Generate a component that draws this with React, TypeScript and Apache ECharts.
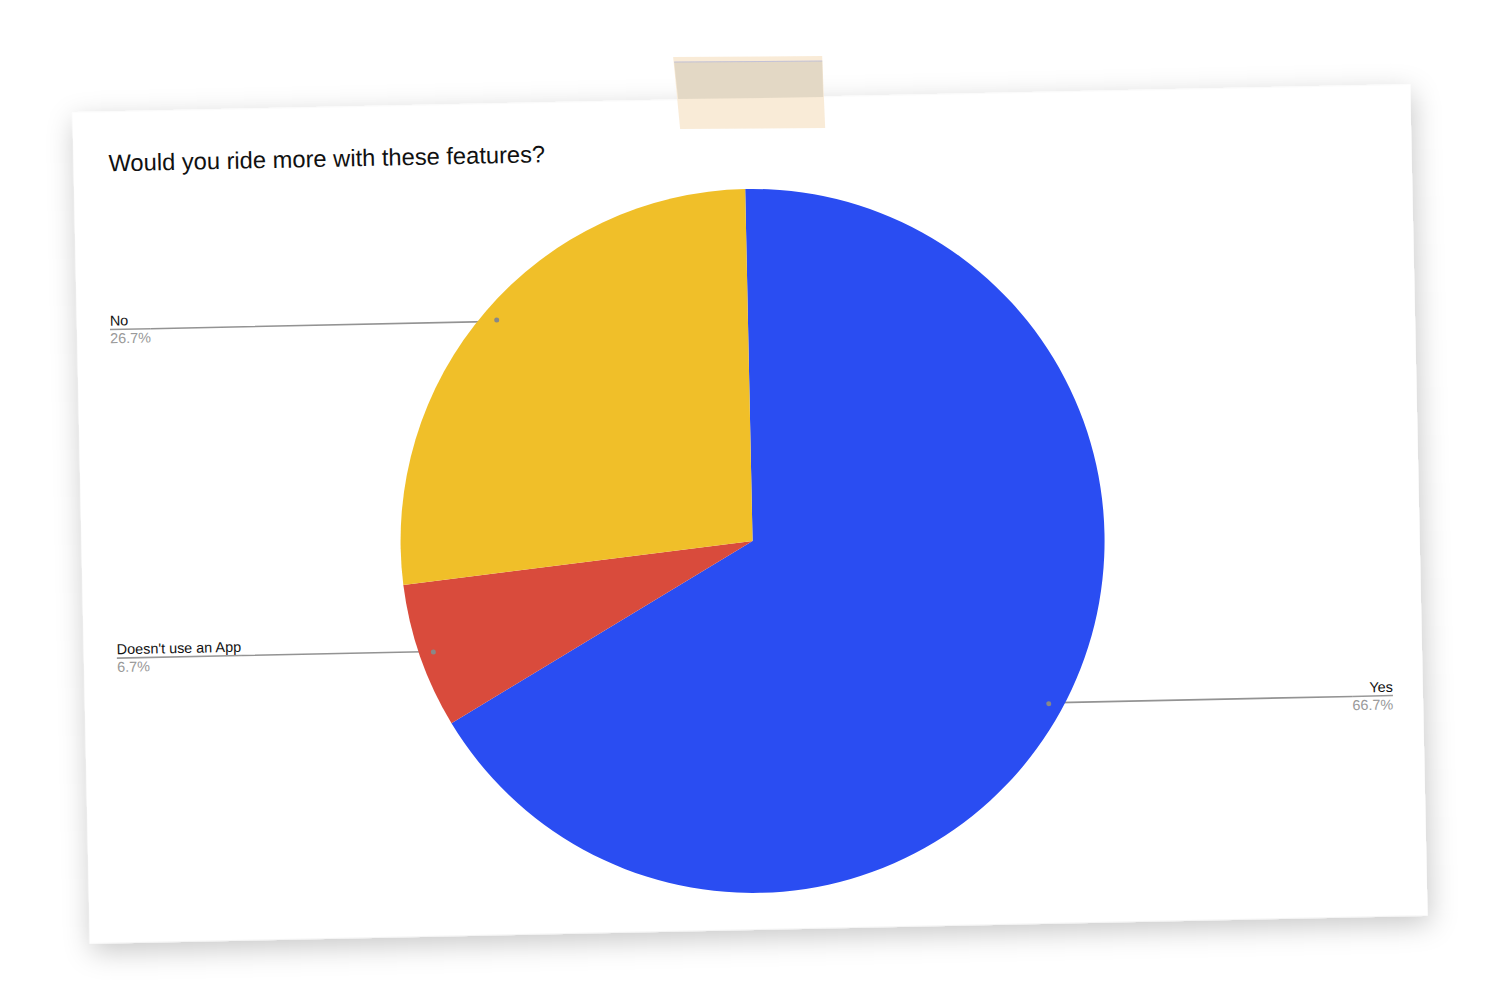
import React, { useEffect, useRef } from "react";
import * as echarts from "echarts";

const titleText = "Would you ride more with these features?";
const categories = ["Yes", "Doesn't use an App", "No"];
const values = [10, 1, 4];
const colors = ["#2a4df2", "#d94b3c", "#f0bf29"];

const FONT = 'Arial, "Liberation Sans", Helvetica, sans-serif';
const TILT_DEG = -1.2;
const ORIGIN_X = 750;
const ORIGIN_Y = 514;

export default function App() {
  const ref = useRef<HTMLDivElement | null>(null);

  useEffect(() => {
    if (!ref.current) return;
    const chart = echarts.init(ref.current, null, { renderer: "svg", width: 1500, height: 1000 });
    const total = values.reduce((a, b) => a + b, 0);
    const data = categories.map((name, i) => ({ name, value: values[i], itemStyle: { color: colors[i] } }));
    const ghost = categories.map((name, i) => ({ name, value: values[i] }));
    const center = [750, 541];
    const box = { left: 2, right: -1, top: 0, bottom: 0 };

    chart.setOption({
      animation: false,
      backgroundColor: "transparent",
      title: {
        text: titleText,
        left: 111,
        top: 133,
        textStyle: { fontFamily: FONT, fontSize: 23.7, fontWeight: "normal", color: "#111" },
      },
      graphic: [
        {
          type: "rect",
          z: -10,
          shape: { x: 81, y: 98.5, width: 1338, height: 831 },
          style: {
            fill: "#ffffff",
            shadowBlur: 28,
            shadowColor: "rgba(0,0,0,0.22)",
            shadowOffsetX: 2,
            shadowOffsetY: 8,
          },
          silent: true,
        },
        {
          type: "group",
          z: 100,
          rotation: (TILT_DEG * Math.PI) / 180,
          originX: ORIGIN_X,
          originY: ORIGIN_Y,
          silent: true,
          children: [
            {
              type: "polygon",
              shape: { points: [[673, 57], [822, 56], [825, 128], [680, 129]] },
              style: { fill: "rgba(249,234,212,0.93)" },
            },
            {
              type: "polygon",
              shape: { points: [[674, 62], [822, 61], [823, 97], [678, 99]] },
              style: { fill: "rgba(226,215,196,0.95)" },
            },
            {
              type: "line",
              shape: { x1: 674, y1: 62, x2: 822, y2: 61 },
              style: { stroke: "rgba(190,190,215,0.9)", lineWidth: 1 },
            },
          ],
        },
      ],
      series: [
        {
          type: "pie",
          ...box,
          center,
          radius: 352,
          startAngle: 90,
          clockwise: true,
          silent: true,
          label: { show: false },
          labelLine: { show: false },
          itemStyle: { borderWidth: 0 },
          emphasis: { disabled: true },
          data,
        },
        {
          type: "pie",
          ...box,
          center,
          radius: 335,
          startAngle: 90,
          clockwise: true,
          silent: true,
          itemStyle: { color: "rgba(0,0,0,0)", borderWidth: 0 },
          emphasis: { disabled: true },
          label: {
            show: true,
            position: "outer",
            alignTo: "edge",
            edgeDistance: 112,
            distanceToLabelLine: 0,
            fontFamily: FONT,
            formatter: (p: any) => `{n|${p.name}}\n{hr|}\n{p|${((p.value / total) * 100).toFixed(1)}%}`,
            rich: {
              n: { fontFamily: FONT, fontSize: 14.4, color: "#111", lineHeight: 16 },
              hr: { width: "100%", height: 1.6, backgroundColor: "#999999" },
              p: { fontFamily: FONT, fontSize: 14.4, color: "#999999", lineHeight: 16 },
            },
          },
          labelLine: {
            show: true,
            length: 1,
            length2: 20,
            lineStyle: { color: "#939393", width: 1.6 },
          },
          data: ghost,
        },
        {
          type: "pie",
          ...box,
          center,
          radius: [333, 337],
          startAngle: 90,
          clockwise: true,
          silent: true,
          itemStyle: { color: "rgba(0,0,0,0)", borderWidth: 0 },
          emphasis: { disabled: true },
          label: {
            show: true,
            position: "inside",
            formatter: "{d|}",
            rich: { d: { width: 5, height: 5, borderRadius: 2.5, backgroundColor: "#888888" } },
          },
          labelLine: { show: false },
          data: ghost,
        },
      ],
    });

    return () => chart.dispose();
  }, []);

  return (
    <div
      style={{
        position: "fixed",
        left: 0,
        top: 0,
        width: 1500,
        height: 1000,
        overflow: "hidden",
        background: "#ffffff",
      }}
    >
      <div
        ref={ref}
        style={{
          position: "absolute",
          left: 0,
          top: 0,
          width: 1500,
          height: 1000,
          transform: `rotate(${TILT_DEG}deg)`,
          transformOrigin: `${ORIGIN_X}px ${ORIGIN_Y}px`,
        }}
      />
    </div>
  );
}
